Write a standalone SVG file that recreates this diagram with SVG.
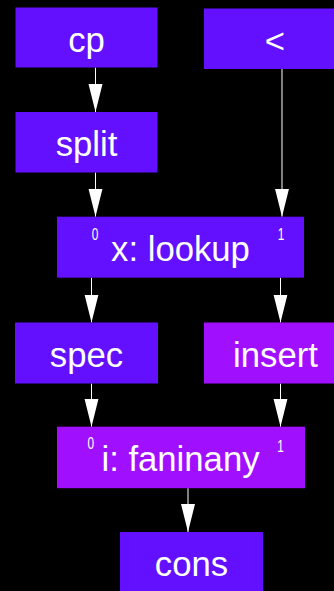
<svg xmlns="http://www.w3.org/2000/svg" width="334" height="591" viewBox="0 0 334 591">
  <defs>
    <marker id="head" markerUnits="userSpaceOnUse" markerWidth="28" markerHeight="15" refX="28" refY="7.5" orient="auto">
      <path d="M0,0.5 L28,7.5 L0,14.5 Z" fill="#ffffff"/>
    </marker>
    <style>
      .stage { fill: #6210ff; }
      .merge { fill: #a010ff; }
      .label { font-family: "Liberation Sans", Arial, sans-serif; font-size: 34.7px; fill: #ffffff; text-anchor: middle; }
      .port { font-family: "Liberation Sans", Arial, sans-serif; font-size: 16.5px; fill: #ffffff; text-anchor: middle; }
      .edge { stroke: #ffffff; stroke-width: 1; fill: none; marker-end: url(#head); }
    </style>
  </defs>
  <rect width="334" height="591" fill="#000000"/>

  <g id="connectors">
    <path class="edge" d="M95.5,67.5 V112"/>
    <path class="edge" d="M95.5,172.5 V216.7"/>
    <path class="edge" d="M282,69 V216.7"/>
    <path class="edge" d="M91.5,277.7 V322.5"/>
    <path class="edge" d="M280.5,277.7 V322.5"/>
    <path class="edge" d="M91.5,383.5 V426.7"/>
    <path class="edge" d="M280.5,383.5 V426.7"/>
    <path class="edge" d="M188,488.2 V532"/>
  </g>

  <g id="cp">
    <rect class="stage" x="15.5" y="7.5" width="142" height="60"/>
    <text class="label" x="86.5" y="51.5">cp</text>
  </g>
  <g id="lt">
    <rect class="stage" x="204" y="8.5" width="142" height="60.5"/>
    <text class="label" x="275" y="52.5">&lt;</text>
  </g>
  <g id="split">
    <rect class="stage" x="15.5" y="112" width="142" height="60.5"/>
    <text class="label" x="86.5" y="156">split</text>
  </g>
  <g id="lookup">
    <rect class="stage" x="57" y="216.7" width="247" height="61"/>
    <text class="label" x="180.5" y="261">x: lookup</text>
    <text class="port" transform="translate(95,240.2) scale(0.72,1)">0</text>
    <text class="port" transform="translate(281,240.2) scale(0.72,1)">1</text>
  </g>
  <g id="spec">
    <rect class="stage" x="15" y="322.5" width="143" height="61"/>
    <text class="label" x="86.5" y="366.8">spec</text>
  </g>
  <g id="insert">
    <rect class="merge" x="204" y="322.5" width="142" height="61"/>
    <text class="label" x="275.5" y="366.8">insert</text>
  </g>
  <g id="faninany">
    <rect class="merge" x="57" y="426.7" width="248" height="61.5"/>
    <text class="label" x="180.5" y="471.3">i: faninany</text>
    <text class="port" transform="translate(90.8,449) scale(0.72,1)">0</text>
    <text class="port" transform="translate(280.5,452) scale(0.72,1)">1</text>
  </g>
  <g id="cons">
    <rect class="stage" x="120" y="532" width="143" height="61"/>
    <text class="label" x="191.5" y="576.3">cons</text>
  </g>
</svg>
